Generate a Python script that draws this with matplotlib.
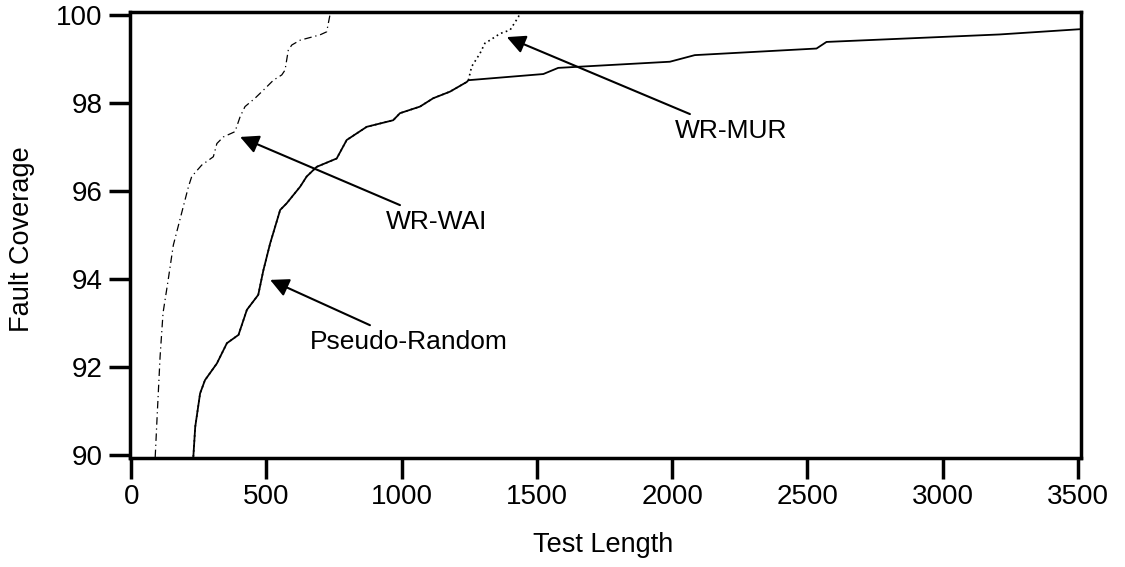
import matplotlib
matplotlib.use('Agg')
import matplotlib.pyplot as plt

plt.rcParams['font.family'] = ['Liberation Sans', 'DejaVu Sans']

# fault coverage curves
pr_x = [230, 237, 255, 273, 317, 354, 397, 428, 470, 489, 514, 551, 575, 625, 649, 686,
        760, 797, 871, 969, 994, 1068, 1117, 1179, 1241, 1247, 1524, 1579, 1992, 2084,
        2534, 2571, 3211, 3510]
pr_y = [89.96, 90.64, 91.40, 91.70, 92.08, 92.54, 92.73, 93.30, 93.64, 94.20, 94.81,
        95.57, 95.72, 96.10, 96.33, 96.55, 96.74, 97.16, 97.46, 97.61, 97.77, 97.92,
        98.11, 98.26, 98.48, 98.52, 98.66, 98.80, 98.94, 99.09, 99.24, 99.39, 99.56, 99.68]

mur_x = [230, 237, 255, 273, 317, 354, 397, 428, 470, 489, 514, 551, 575, 625, 649, 686,
         760, 797, 871, 969, 994, 1068, 1117, 1179, 1241, 1247, 1259, 1290, 1308, 1327,
         1364, 1401, 1432, 1438]
mur_y = [89.96, 90.64, 91.40, 91.70, 92.08, 92.54, 92.73, 93.30, 93.64, 94.20, 94.81,
         95.57, 95.72, 96.10, 96.33, 96.55, 96.74, 97.16, 97.46, 97.61, 97.77, 97.92,
         98.11, 98.26, 98.48, 98.52, 98.83, 99.13, 99.36, 99.43, 99.58, 99.66, 99.96, 100.07]

wai_x = [89, 96, 107, 118, 137, 156, 212, 224, 261, 304, 317, 341, 384, 403, 421, 458,
         495, 526, 557, 569, 581, 594, 625, 698, 723, 735, 737]
wai_y = [89.95, 90.86, 92.23, 93.23, 93.98, 94.77, 96.10, 96.33, 96.59, 96.78, 97.08,
         97.23, 97.35, 97.69, 97.92, 98.11, 98.33, 98.52, 98.64, 98.75, 99.20, 99.32,
         99.43, 99.55, 99.62, 100.0, 100.07]

xticks = [0, 500, 1000, 1500, 2000, 2500, 3000, 3500]
yticks = [90, 92, 94, 96, 98, 100]

# (label, text pos, arrow tail, arrow tip)
notes = [
    ('WR-MUR', (2217, 97.36), (2066, 97.75), (1389, 99.50)),
    ('WR-WAI', (1129, 95.30), (994, 95.68), (403, 97.23)),
    ('Pseudo-Random', (1027, 92.57), (883, 92.95), (514, 93.98)),
]

fig = plt.figure(figsize=(11.25, 5.67), dpi=100)
ax = fig.add_axes([0.1156, 0.1922, 0.8453, 0.7866])

ax.plot(pr_x, pr_y, color='k', lw=1.3)
ax.plot(mur_x, mur_y, color='k', lw=1.2, ls=(0, (1, 2)))
ax.plot(wai_x, wai_y, color='k', lw=0.9, ls=(0, (6, 3, 1, 3)))

for label, tpos, tail, tip in notes:
    ax.annotate('', xy=tip, xytext=tail,
                arrowprops=dict(arrowstyle='-|>', color='k', lw=1.5,
                                mutation_scale=28, shrinkA=0, shrinkB=0))
    ax.text(tpos[0], tpos[1], label, fontsize=19, ha='center', va='center')

ax.set_xlim(-4, 3512)
ax.set_ylim(89.93, 100.07)
ax.set_xticks(xticks)
ax.set_yticks(yticks)
ax.tick_params(axis='both', length=15, width=2.5, labelsize=20, direction='out')
ax.tick_params(axis='x', pad=4)
ax.tick_params(axis='y', pad=5)
for s in ax.spines.values():
    s.set_linewidth(2.5)

ax.set_xlabel('Test Length', fontsize=19.5)
ax.set_ylabel('Fault Coverage', fontsize=19.5)
ax.xaxis.set_label_coords(0.497, -0.165)
ax.yaxis.set_label_coords(-0.1, 0.49)

fig.savefig('out.png', dpi=100)
